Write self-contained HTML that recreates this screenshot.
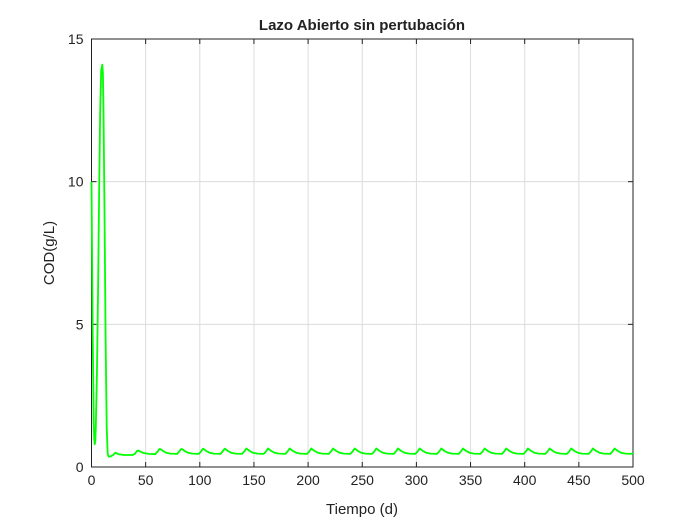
<!DOCTYPE html>
<html><head><meta charset="utf-8"><style>
body{margin:0;background:#fff;font-family:"Liberation Sans",sans-serif}
svg text{font-family:"Liberation Sans",sans-serif}
</style></head><body>
<svg width="700" height="525" xmlns="http://www.w3.org/2000/svg">
<rect width="700" height="525" fill="#fff"/>
<g id="grid"></g>
<g id="axes"></g>
<path id="line" fill="none" stroke="#00ff00" stroke-width="1.8" stroke-linejoin="round"/>
<text x="362" y="30" text-anchor="middle" font-weight="bold" font-size="15" fill="#222">Lazo Abierto sin pertubación</text>
<text x="362" y="514" text-anchor="middle" font-size="15" fill="#222">Tiempo (d)</text>
<text transform="translate(54,253) rotate(-90)" text-anchor="middle" font-size="15" fill="#222">COD(g/L)</text>
</svg>
<script>
const xTicks=[0,50,100,150,200,250,300,350,400,450,500];
const yTicks=[0,5,10,15];
const tVals=[0,1,2,2.5,3,3.5,4,5,6,7,8,9,10,10.5,11,12,13,14,15,16,18,20,22,25,30,38,40,42,43,45,48,53,59];
const yVals=[10,5,1.6,1.0,0.8,0.9,1.4,3.2,6,9.5,12.5,13.9,14.1,13.8,12.8,9,4.5,1.4,0.45,0.36,0.38,0.42,0.5,0.45,0.42,0.42,0.46,0.56,0.58,0.54,0.49,0.46,0.45];
const peakT=[63,83,103,123,143,163,183,203,223,243,263,283,303,323,343,363,383,403,423,443,463,483];
const peakV=[0.63,0.63,0.64,0.64,0.65,0.65,0.65,0.65,0.65,0.65,0.65,0.65,0.65,0.65,0.65,0.65,0.65,0.65,0.65,0.65,0.65,0.65];
const X0=91.5,X1=633,Y0=467,Y1=39;
const xs=t=>X0+(t-0)/500*(X1-X0);
const ys=v=>Y0-(v/15)*(Y0-Y1);
const NS="http://www.w3.org/2000/svg";
const grid=document.getElementById('grid'),axes=document.getElementById('axes');
function mk(p,tag,a){const e=document.createElementNS(NS,tag);for(const k in a)e.setAttribute(k,a[k]);p.appendChild(e);return e;}
xTicks.forEach(t=>{
 const g=mk(grid,'line',{x1:xs(t),x2:xs(t),y1:Y1,y2:Y0,stroke:'#dcdcdc','stroke-width':1});
 
 
 const tk=mk(axes,'line',{x1:xs(t),x2:xs(t),y1:Y0,y2:Y0-5,stroke:'#222'});
 
 
 const tk2=mk(axes,'line',{x1:xs(t),x2:xs(t),y1:Y1,y2:Y1+5,stroke:'#222'});
 
 
 const l=mk(axes,'text',{x:xs(t),y:Y0+18,'text-anchor':'middle','font-size':14,fill:'#222'});
 l.textContent=t;
 
 
});
yTicks.forEach(v=>{
 const g=mk(grid,'line',{x1:X0,x2:X1,y1:ys(v),y2:ys(v),stroke:'#dcdcdc','stroke-width':1});
 
 
 const tk=mk(axes,'line',{x1:X0,x2:X0+5,y1:ys(v),y2:ys(v),stroke:'#222'});
 
 
 const tk2=mk(axes,'line',{x1:X1,x2:X1-5,y1:ys(v),y2:ys(v),stroke:'#222'});
 
 
 const l=mk(axes,'text',{x:X0-8,y:ys(v)+5,'text-anchor':'end','font-size':14,fill:'#222'});
 l.textContent=v;
 
 
});
const box=mk(axes,'rect',{x:X0,y:Y1,width:X1-X0,height:Y0-Y1,fill:'none',stroke:'#222','stroke-width':1});


let pts=tVals.map((t,i)=>[t,yVals[i]]);
peakT.forEach((p,i)=>{
 pts.push([p-4,0.46],[p-2,0.54],[p-0.5,0.62],[p,peakV[i]],[p+1,0.62],[p+3,0.56],[p+6,0.5],[p+10,0.47],[p+16,0.46]);
});
pts.push([500,0.5]);
pts=pts.filter(p=>p[0]<=500);
document.getElementById('line').setAttribute('d',pts.map((p,i)=>(i?'L':'M')+xs(p[0]).toFixed(1)+','+ys(p[1]).toFixed(1)).join(''));
</script>
</body></html>
